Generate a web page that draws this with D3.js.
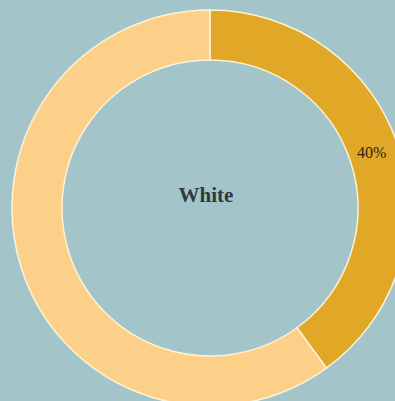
<!DOCTYPE html>
<html>
<head>
<meta charset="utf-8">
<script src="https://cdn.jsdelivr.net/npm/d3@7"></script>
<style>
  html, body { margin: 0; padding: 0; background: #a3c5ca; }
  svg { display: block; }
</style>
</head>
<body>
<script>
// Share of the "White" group against everything else
const categories = ["White", "Other"];
const shares = [40, 60];
const sliceColors = ["#e1a828", "#fdd08a"];
const centerLabel = "White";

const width = 395, height = 401;
const cx = 210, cy = 208;
const outerR = 198, innerR = 148;

const svg = d3.select("body").append("svg")
  .attr("width", width)
  .attr("height", height);

const g = svg.append("g").attr("transform", `translate(${cx},${cy})`);

const pie = d3.pie().sort(null).value(d => d.value);
const arc = d3.arc().innerRadius(innerR).outerRadius(outerR);

const data = categories.map((c, i) => ({ name: c, value: shares[i] }));
const arcs = pie(data);
const color = d3.scaleOrdinal().domain(categories).range(sliceColors);

g.selectAll("path.slice")
  .data(arcs)
  .join("path")
  .attr("class", "slice")
  .attr("d", arc)
  .attr("fill", d => color(d.data.name))
  .attr("stroke", "#fdf3d6")
  .attr("stroke-width", 1.5);

// Percentage label on the highlighted slice only
const total = d3.sum(shares);
g.selectAll("text.pct")
  .data(arcs.filter(d => d.data.name === centerLabel))
  .join("text")
  .attr("class", "pct")
  .attr("transform", d => {
    const [x, y] = arc.centroid(d);
    return `translate(${x - 3},${y - 2})`;
  })
  .attr("text-anchor", "middle")
  .attr("dominant-baseline", "central")
  .attr("font-family", "'Liberation Serif', 'Times New Roman', serif")
  .attr("font-size", 16)
  .attr("fill", "#2a2410")
  .text(d => Math.round(d.data.value / total * 100) + "%");

g.append("text")
  .attr("x", -4)
  .attr("y", -6)
  .attr("text-anchor", "middle")
  .attr("font-family", "'Liberation Serif', 'Times New Roman', serif")
  .attr("font-weight", "bold")
  .attr("font-size", 21)
  .attr("fill", "#2f3a3c")
  .text(centerLabel);
</script>
</body>
</html>
